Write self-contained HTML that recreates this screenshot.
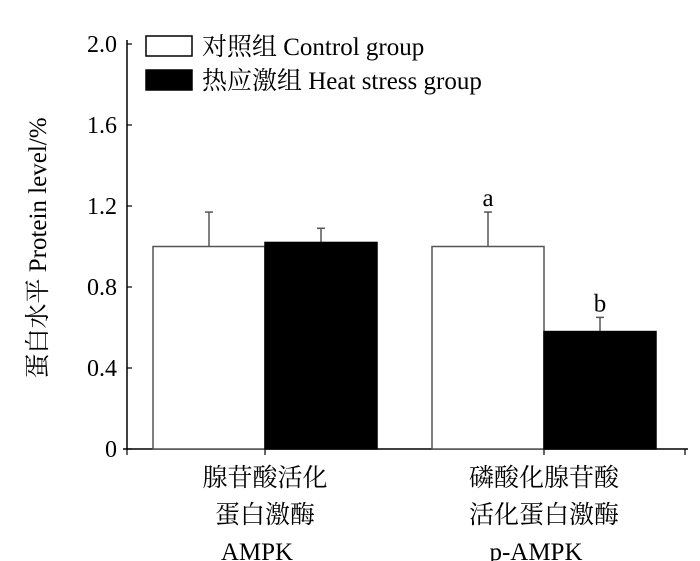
<!DOCTYPE html>
<html><head><meta charset="utf-8"><style>
body{margin:0;background:#fff}
svg{display:block;font-family:"Liberation Serif","Noto Serif CJK SC","Noto Sans CJK SC",serif}
</style></head><body>
<svg width="700" height="561" viewBox="0 0 700 561">
<g id="chart"></g>
</svg>
<script>
const categories=["AMPK","p-AMPK"];
const controlValues=[1.0,1.0];
const heatValues=[1.02,0.58];
const controlErr=[0.17,0.17];
const heatErr=[0.07,0.07];
const yTicks=[0,0.4,0.8,1.2,1.6,2.0];
const yTickLabels=["0","0.4","0.8","1.2","1.6","2.0"];
const sigLabels=[["",""],["a","b"]];
const catLines=[["腺苷酸活化","蛋白激酶","AMPK"],["磷酸化腺苷酸","活化蛋白激酶","p-AMPK"]];

const NS="http://www.w3.org/2000/svg";
const g=document.getElementById('chart');
const x0=127,yBase=449,yTop=44,yMax=2.0;
const y=v=>yBase-(v/yMax)*(yBase-yTop);
const groupStart=[153,432],barW=112;
function mk(t,a,p){const e=document.createElementNS(NS,t);for(const k in a)e.setAttribute(k,a[k]);(p||g).appendChild(e);return e;}
let ax=mk('line',{x1:x0,y1:yTop-4,x2:x0,y2:yBase+1,stroke:'#000','stroke-width':1.5});


let xa=mk('line',{x1:x0-4,y1:yBase,x2:688,y2:yBase,stroke:'#000','stroke-width':1.5});


yTicks.forEach((v,i)=>{
 mk('line',{x1:x0,y1:y(v),x2:x0+5,y2:y(v),stroke:'#000','stroke-width':1.2});
 const t=mk('text',{x:x0-10,y:y(v)+8,'text-anchor':'end','font-size':24});
 t.textContent=yTickLabels[i];
 
 
});
[x0,265,544,685].forEach(px=>mk('line',{x1:px,y1:yBase,x2:px,y2:yBase+6,stroke:'#000','stroke-width':1.2}));
categories.forEach((c,i)=>{
 const gx=groupStart[i];
 const vals=[controlValues[i],heatValues[i]],errs=[controlErr[i],heatErr[i]];
 vals.forEach((v,j)=>{
  const bx=gx+j*barW, cx=bx+barW/2;
  const top=y(v+errs[j]);
  mk('line',{x1:cx,y1:y(v),x2:cx,y2:top,stroke:'#555','stroke-width':1.5});
  mk('line',{x1:cx-4,y1:top,x2:cx+4,y2:top,stroke:'#555','stroke-width':1.5});
  const r=mk('rect',{x:bx,y:y(v),width:barW,height:yBase-y(v),fill:j?'#000':'#fff',stroke:j?'#000':'#555','stroke-width':1.5});
  
  
  if(sigLabels[i][j]){
   const s=mk('text',{x:cx,y:top-6,'text-anchor':'middle','font-size':25});
   s.textContent=sigLabels[i][j];
   
   
  }
 });
 const cxg=gx+barW;
 catLines[i].forEach((ln,k)=>{
  const t=mk('text',{x:cxg-(k==2?8:0),y:486+k*37,'text-anchor':'middle','font-size':25});
  t.textContent=ln;
  
  
 });
});
const yt=mk('text',{transform:'translate(46,248) rotate(-90)','text-anchor':'middle','font-size':25});
yt.textContent='蛋白水平  Protein level/%';


[['#fff','对照组  Control group'],['#000','热应激组  Heat stress group']].forEach((l,i)=>{
 const r=mk('rect',{x:146,y:36+i*34,width:46,height:20,fill:l[0],stroke:'#000','stroke-width':1.5});
 
 
 const t=mk('text',{x:202,y:55+i*34,'font-size':25});
 t.textContent=l[1];
 
 
});
</script>
</body></html>
